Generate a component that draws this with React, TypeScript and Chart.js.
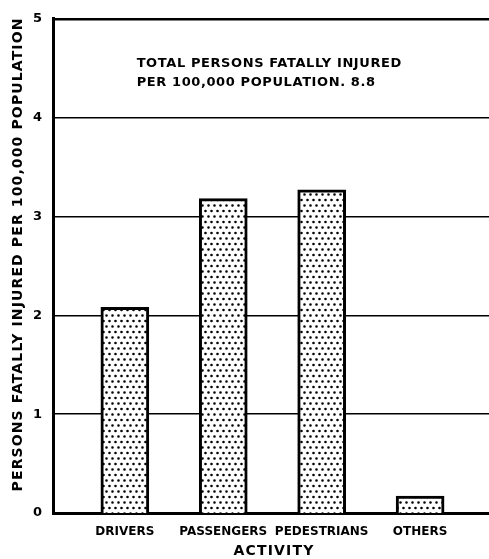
import { useEffect, useRef } from 'react';
import { Chart, registerables } from 'chart.js';

Chart.register(...registerables);

const categories = ['DRIVERS', 'PASSENGERS', 'PEDESTRIANS', 'OTHERS'];
const rates = [2.08, 3.18, 3.27, 0.17];
const yTickValues = [0, 1, 2, 3, 4, 5];
const yTitle = 'PERSONS FATALLY INJURED PER 100,000 POPULATION';
const xTitle = 'ACTIVITY';
const noteLines = ['TOTAL PERSONS FATALLY INJURED', 'PER 100,000 POPULATION. 8.8'];

const FONT = '"DejaVu Sans", "Liberation Sans", sans-serif';

function makeDotPattern(): CanvasPattern | string {
  const c = document.createElement('canvas');
  c.width = 6;
  c.height = 11;
  const g = c.getContext('2d');
  if (!g) return '#ccc';
  g.fillStyle = '#fff';
  g.fillRect(0, 0, 6, 11);
  g.fillStyle = '#000';
  g.beginPath();
  g.arc(1.5, 2, 1.3, 0, Math.PI * 2);
  g.closePath();
  g.moveTo(5.8, 7.5);
  g.arc(4.5, 7.5, 1.3, 0, Math.PI * 2);
  g.fill();
  const p = g.createPattern(c, 'repeat');
  return p || '#ccc';
}

const textPlugin = {
  id: 'customTexts',
  afterDraw(chart: any) {
    const ctx = chart.ctx as CanvasRenderingContext2D;
    const area = chart.chartArea;
    const xs = chart.scales.x;
    const ys = chart.scales.y;
    ctx.save();
    ctx.fillStyle = '#000';

    // annotation
    ctx.font = `bold 13px ${FONT}`;
    ctx.textAlign = 'left';
    ctx.textBaseline = 'alphabetic';
    (ctx as any).letterSpacing = '0.6px';
    const nx = xs.getPixelForValue(0.12);
    ctx.fillText(noteLines[0], nx, ys.getPixelForValue(4.51));
    ctx.fillText(noteLines[1], nx, ys.getPixelForValue(4.32));

    // y title, fitted to length
    ctx.font = `bold 14px ${FONT}`;
    (ctx as any).letterSpacing = '0px';
    const w0 = ctx.measureText(yTitle).width;
    const target = 474;
    const ls = Math.max(0, (target - w0) / yTitle.length);
    (ctx as any).letterSpacing = `${ls}px`;
    ctx.translate(18, 255);
    ctx.rotate(-Math.PI / 2);
    ctx.textAlign = 'center';
    ctx.textBaseline = 'middle';
    ctx.fillText(yTitle, ls / 2, 0);
    ctx.setTransform(1, 0, 0, 1, 0, 0);

    // x title
    ctx.font = `bold 14px ${FONT}`;
    (ctx as any).letterSpacing = '1.2px';
    ctx.textAlign = 'center';
    ctx.textBaseline = 'middle';
    ctx.fillText(xTitle, (area.left + area.right) / 2 + 3, 551);
    ctx.restore();
  },
};

export default function App() {
  const ref = useRef<HTMLCanvasElement | null>(null);

  useEffect(() => {
    if (!ref.current) return;
    const pattern = makeDotPattern();
    const chart = new Chart(ref.current, {
      type: 'bar',
      data: {
        datasets: [
          {
            data: rates.map((v, i) => ({ x: i, y: v })),
            backgroundColor: pattern as any,
            borderColor: '#000',
            borderWidth: 3,
            barThickness: 48,
          },
        ],
      },
      options: {
        animation: false,
        responsive: true,
        maintainAspectRatio: false,
        layout: { padding: { top: 16, right: 0, left: 0, bottom: 0 } },
        plugins: {
          legend: { display: false },
          tooltip: { enabled: false },
        },
        scales: {
          x: {
            type: 'linear',
            offset: false,
            min: -0.73,
            max: 3.7,
            afterFit: (s: any) => {
              s.height = 46;
            },
            afterBuildTicks: (s: any) => {
              s.ticks = categories.map((_, i) => ({ value: i }));
            },
            grid: { display: false },
            border: { display: true, color: '#000', width: 3 },
            ticks: {
              color: '#000',
              padding: 4,
              autoSkip: false,
              maxRotation: 0,
              font: { family: FONT, size: 12, weight: 'bold' },
              callback: (v: any) => categories[Math.round(Number(v))] ?? '',
            },
          },
          y: {
            min: 0,
            max: 5,
            afterFit: (s: any) => {
              s.width = 53;
            },
            afterBuildTicks: (s: any) => {
              s.ticks = yTickValues.map((v) => ({ value: v }));
            },
            grid: {
              color: '#000',
              drawTicks: false,
              lineWidth: (c: any) => {
                const v = c.tick ? c.tick.value : 0;
                if (v === 0) return 0;
                if (v === 5) return 2.5;
                return 1.5;
              },
            },
            border: { display: true, color: '#000', width: 3 },
            ticks: {
              color: '#000',
              padding: 11,
              font: { family: FONT, size: 13, weight: 'bold' },
              callback: (v: any) => String(v),
            },
          },
        },
      },
      plugins: [textPlugin],
    });
    return () => chart.destroy();
  }, []);

  return (
    <div style={{ position: 'absolute', left: 0, top: 0, width: 489, height: 559, background: '#fff' }}>
      <canvas ref={ref} />
    </div>
  );
}
